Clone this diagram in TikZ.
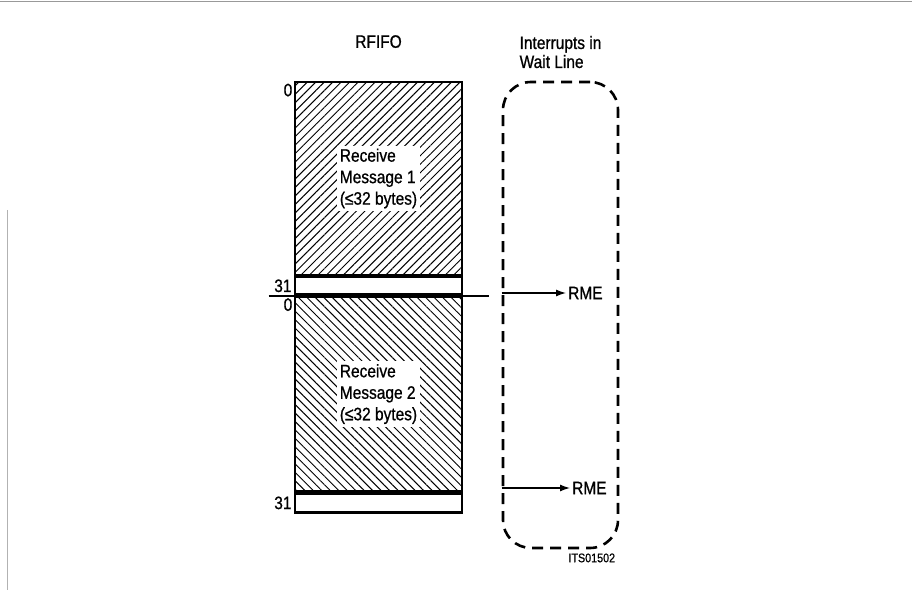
\documentclass[tikz,border=0pt]{standalone}
\usepackage{fontspec}
\setmainfont{Liberation Sans}[FakeStretch=0.86,FakeBold=0.8]
\usepackage{tikz}
\usetikzlibrary{arrows.meta,positioning,patterns.meta}

\begin{document}
\begin{tikzpicture}[x=1pt,y=-1pt,>={Latex[length=10pt,width=7pt]},
  every node/.style={font=\fontsize{18}{21.5}\selectfont},
  fifoblk/.style={draw,line width=2.6pt,minimum width=167pt,inner sep=0pt},
  hatchup/.style={pattern={Lines[angle=45,distance=6pt,line width=1pt]}},
  hatchdn/.style={pattern={Lines[angle=-45,distance=6pt,line width=1pt]}},
  msgtxt/.style={fill=white,align=left,inner sep=3pt},
  idx/.style={inner sep=2pt},
  waitbox/.style={draw,dashed,line width=2.6pt,dash pattern=on 11pt off 7pt,rounded corners=28pt,minimum width=115pt,minimum height=466pt}]
\useasboundingbox (0,0) rectangle (912,593);
\draw[gray!80,line width=1pt] (0,2) -- (912,2);
\draw[gray!60,line width=0.8pt] (7,210) -- (7,590);
\node[fifoblk,hatchup,minimum height=193pt] (msg1) at (378.5,178.5) {};
\node[fifoblk,minimum height=18pt,below=0pt of msg1] (band1) {};
\node[fifoblk,hatchdn,minimum height=195pt,below=0pt of band1] (msg2) {};
\node[fifoblk,minimum height=19pt,below=0pt of msg2] (band2) {};
\node[msgtxt] (txt1) at (msg1) {Receive\\Message 1\\(≤32 bytes)};
\node[msgtxt] (txt2) at (msg2) {Receive\\Message 2\\(≤32 bytes)};
\node[above=30pt of msg1] (rfifo) {RFIFO};
\node[idx,anchor=north east] (top1) at (msg1.north west) {0};
\node[idx,anchor=east] (end1) at (band1.west) {31};
\node[idx,anchor=north east] (top2) at (msg2.north west) {0};
\node[idx,anchor=east] (end2) at (band2.west) {31};
\draw[line width=1.8pt] ([xshift=-25pt]band1.south west) -- ([xshift=26pt]band1.south east);
\node[waitbox] (wait) at (560.5,315) {};
\node[above=9pt of wait,align=left,font=\fontsize{18}{19}\selectfont] (intr) {Interrupts in\\Wait Line};
\node[anchor=west,inner sep=2pt] (rme1) at (566,293) {RME};
\node[anchor=west,inner sep=2pt] (rme2) at (570,488) {RME};
\draw[->,line width=1.3pt] (wait.west |- rme1) -- (rme1);
\draw[->,line width=1.3pt] (wait.west |- rme2) -- (rme2);
\node[anchor=north east,inner sep=4pt,font=\fontsize{12.5}{14}\selectfont] (code) at (wait.south east) {ITS01502};
\end{tikzpicture}
\end{document}
